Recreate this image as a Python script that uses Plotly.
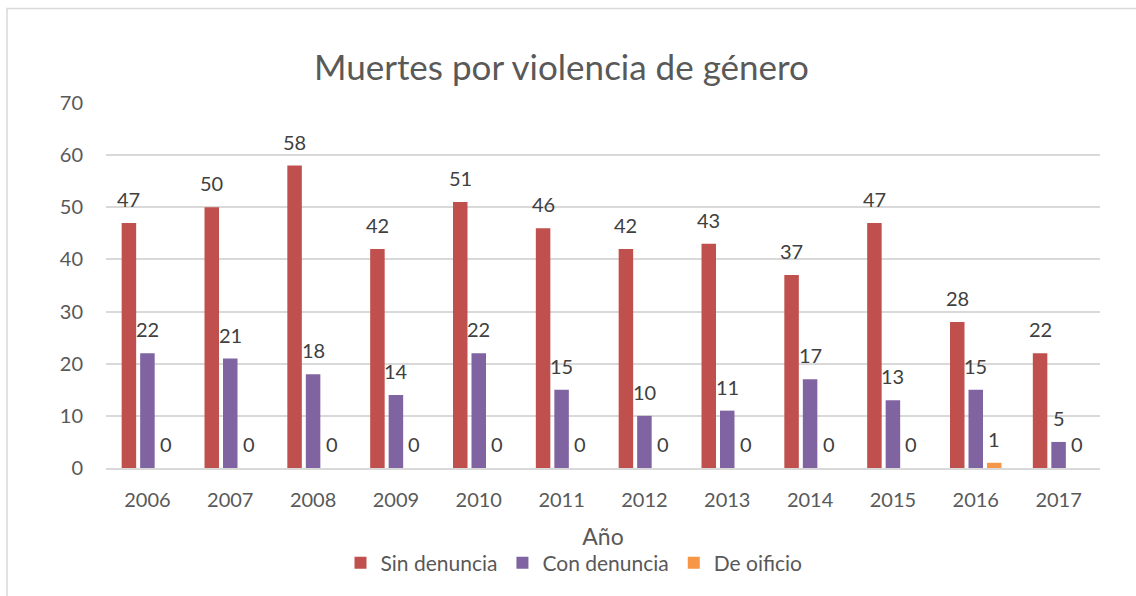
import plotly.graph_objects as go

years = ["2006", "2007", "2008", "2009", "2010", "2011", "2012", "2013", "2014", "2015", "2016", "2017"]
sin_denuncia = [47, 50, 58, 42, 51, 46, 42, 43, 37, 47, 28, 22]
con_denuncia = [22, 21, 18, 14, 22, 15, 10, 11, 17, 13, 15, 5]
de_oficio = [0, 0, 0, 0, 0, 0, 0, 0, 0, 0, 1, 0]

series = [
    ("Sin denuncia", sin_denuncia, "#C0504D"),
    ("Con denuncia", con_denuncia, "#8064A2"),
    ("De oificio", de_oficio, "#F79646"),
]

FONT = "Lato, 'Open Sans', sans-serif"
W, H = 1136, 596
ML, MR, MT, MB = 106, 36, 103, 128
pw = W - ML - MR
ph = H - MT - MB
bargap = 0.33
bargroupgap = 0.216
slot = pw / len(years) * (1 - bargap) / len(series)

fig = go.Figure()
annotations = []
for i, (name, vals, col) in enumerate(series):
    fig.add_trace(go.Bar(
        x=years, y=vals, name=name,
        marker=dict(color=col, line=dict(width=0)),
    ))
    for j, v in enumerate(vals):
        # category axis: position by category index
        annotations.append(dict(
            x=j, y=v, xref="x", yref="y", text=str(v), showarrow=False,
            xanchor="center", yanchor="bottom", yshift=10,
            xshift=(i - 1) * slot,
            font=dict(family=FONT, size=20, color="#404040"),
        ))

def px_to_paper_x(px):
    return (px - ML) / pw

def px_to_paper_y(py):
    return (H - MB - py) / ph

annotations.append(dict(
    x=px_to_paper_x(561), y=px_to_paper_y(66), xref="paper", yref="paper",
    text="Muertes por violencia de género", showarrow=False,
    xanchor="center", yanchor="middle",
    font=dict(family=FONT, size=35, color="#595959"),
))

fig.update_layout(
    width=W, height=H,
    margin=dict(l=ML, r=MR, t=MT, b=MB, autoexpand=False),
    paper_bgcolor="white", plot_bgcolor="white",
    barmode="group", bargap=bargap, bargroupgap=bargroupgap,
    font=dict(family=FONT, color="#595959"),
    showlegend=True,
    legend=dict(
        orientation="h", x=px_to_paper_x(574), xanchor="center",
        y=px_to_paper_y(563), yanchor="middle",
        font=dict(family=FONT, size=21, color="#595959"),
        itemwidth=30, tracegroupgap=0,
    ),
    annotations=annotations,
    shapes=[dict(
        type="rect", xref="paper", yref="paper",
        x0=px_to_paper_x(7), x1=px_to_paper_x(1150),
        y0=px_to_paper_y(620), y1=px_to_paper_y(8.5),
        line=dict(color="#d9d9d9", width=1.5), fillcolor="rgba(0,0,0,0)",
        layer="below",
    )],
)

fig.update_xaxes(
    type="category", categoryorder="array", categoryarray=years,
    range=[-0.5, len(years) - 0.5],
    showgrid=False, showline=True, linecolor="#d9d9d9", linewidth=1.5,
    ticks="", ticklabelstandoff=13,
    tickfont=dict(family=FONT, size=20, color="#595959"),
    title=dict(text="Año", font=dict(family=FONT, size=23, color="#595959"), standoff=19),
)
fig.update_yaxes(
    range=[0, 70], dtick=10, showgrid=True, gridcolor="#d9d9d9", gridwidth=1.5,
    zeroline=False, showline=False, ticks="", ticklabelstandoff=22,
    tickfont=dict(family=FONT, size=20, color="#595959"),
)

fig.write_html(
    "out.html",
    config={"displayModeBar": False},
    post_script="document.body.style.margin='0';document.body.style.overflow='hidden';document.documentElement.style.overflow='hidden';",
)
